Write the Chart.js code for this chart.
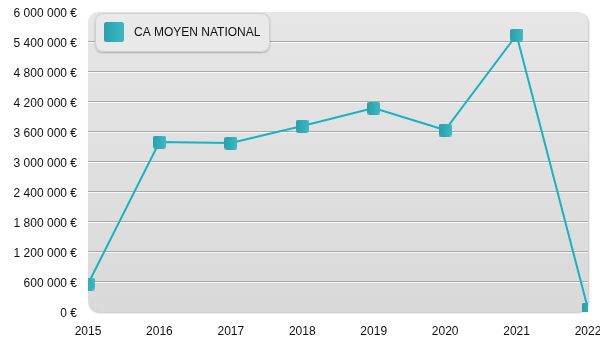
<!DOCTYPE html>
<html>
<head>
<meta charset="utf-8">
<script src="https://cdn.jsdelivr.net/npm/chart.js@4/dist/chart.umd.min.js"></script>
<style>
    html, body { margin: 0; padding: 0; background: #fff; }
    #wrap { width: 600px; height: 350px; }
</style>
</head>
<body>
<div id="wrap"><canvas id="chart"></canvas></div>
<script>
const years = ["2015", "2016", "2017", "2018", "2019", "2020", "2021", "2022"];
const ca_moyen = [560000, 3400000, 3380000, 3720000, 4080000, 3640000, 5540000, 60000];
const series_label = "CA MOYEN NATIONAL";
const y_max = 6000000;
const y_step = 600000;

const FONT = "'Liberation Sans', Arial, sans-serif";
const LINE_COLOR = "#17b3c3";

function euro(value) {
    const s = String(Math.round(value)).replace(/\B(?=(\d{3})+(?!\d))/g, " ");
    return s + " €";
}

function round_rect(c, x, y, w, h, r) {
    c.beginPath();
    c.moveTo(x + r, y);
    c.lineTo(x + w - r, y);
    c.quadraticCurveTo(x + w, y, x + w, y + r);
    c.lineTo(x + w, y + h - r);
    c.quadraticCurveTo(x + w, y + h, x + w - r, y + h);
    c.lineTo(x + r, y + h);
    c.quadraticCurveTo(x, y + h, x, y + h - r);
    c.lineTo(x, y + r);
    c.quadraticCurveTo(x, y, x + r, y);
    c.closePath();
}

// teal square with soft corners, used for points and the legend
function marker(size) {
    const cv = document.createElement("canvas");
    cv.width = size;
    cv.height = size;
    const c = cv.getContext("2d");
    const g = c.createLinearGradient(0, 0, size, 0);
    g.addColorStop(0, "#2a9fab");
    g.addColorStop(1, "#3cb9c2");
    c.fillStyle = g;
    round_rect(c, 0, 0, size, size, 2.5);
    c.fill();
    return cv;
}

const point_img = marker(13);
const legend_img = marker(20);

const panel_plugin = {
    id: "panel",
    beforeDatasetsDraw(chart) {
        const { ctx, chartArea: a, scales } = chart;
        ctx.save();
        // panel with shadow
        ctx.shadowColor = "rgba(0,0,0,0.25)";
        ctx.shadowBlur = 2;
        ctx.shadowOffsetX = 1;
        ctx.shadowOffsetY = 1;
        const g = ctx.createLinearGradient(0, a.top, 0, a.bottom);
        g.addColorStop(0, "#e6e6e6");
        g.addColorStop(1, "#d9d9d9");
        ctx.fillStyle = g;
        round_rect(ctx, a.left, a.top, a.right - a.left, a.bottom - a.top, 12);
        ctx.fill();
        ctx.shadowColor = "transparent";

        // grid lines: dark line with a white line below
        const y = scales.y;
        for (let v = y_step; v < y_max; v += y_step) {
            const py = Math.round(y.getPixelForValue(v));
            ctx.fillStyle = "#a9a9a9";
            ctx.fillRect(a.left, py - 1, a.right - a.left, 1);
            ctx.fillStyle = "#f7f7f7";
            ctx.fillRect(a.left, py, a.right - a.left, 1);
        }
        ctx.restore();
    },
    afterDatasetsDraw(chart) {
        const { ctx, chartArea: a } = chart;
        ctx.save();
        // legend box
        const lx = a.left + 7, ly = a.top + 1, lw = 175, lh = 39;
        ctx.shadowColor = "rgba(0,0,0,0.25)";
        ctx.shadowBlur = 2;
        ctx.shadowOffsetY = 1;
        ctx.fillStyle = "#e9e9e9";
        round_rect(ctx, lx, ly, lw, lh, 9);
        ctx.fill();
        ctx.shadowColor = "transparent";
        ctx.strokeStyle = "#cfcfcf";
        ctx.lineWidth = 1;
        round_rect(ctx, lx + 0.5, ly + 0.5, lw - 1, lh - 1, 9);
        ctx.stroke();
        ctx.drawImage(legend_img, lx + 9, ly + 9);
        ctx.fillStyle = "#111";
        ctx.font = "12px " + FONT;
        ctx.textBaseline = "middle";
        ctx.fillText(chart.data.datasets[0].label, lx + 39, ly + 20);
        ctx.restore();
    },
};

const chart = new Chart(document.getElementById("chart"), {
    type: "line",
    data: {
        labels: years,
        datasets: [{
            label: series_label,
            data: ca_moyen,
            borderColor: LINE_COLOR,
            borderWidth: 2,
            tension: 0,
            pointStyle: point_img,
            clip: 0,
        }],
    },
    options: {
        responsive: true,
        maintainAspectRatio: false,
        animation: false,
        layout: { padding: { top: 12, right: 12, left: 0, bottom: 0 } },
        plugins: {
            legend: { display: false },
            tooltip: { enabled: false },
        },
        scales: {
            x: {
                offset: false,
                grid: { display: false, drawTicks: false },
                border: { display: false },
                ticks: {
                    color: "#111",
                    font: { family: FONT, size: 12 },
                    padding: 12,
                    maxRotation: 0,
                    autoSkip: false,
                },
                afterFit(scale) {
                    scale.height = 38;
                    scale.paddingLeft = 0;
                    scale.paddingRight = 0;
                },
            },
            y: {
                min: 0,
                max: y_max,
                grid: { display: false, drawTicks: false },
                border: { display: false },
                ticks: {
                    stepSize: y_step,
                    color: "#111",
                    font: { family: FONT, size: 12 },
                    padding: 11,
                    labelOffset: 2,
                    callback: euro,
                },
                afterFit(scale) {
                    scale.width = 88;
                    scale.paddingTop = 0;
                    scale.paddingBottom = 0;
                },
            },
        },
    },
    plugins: [panel_plugin],
});
</script>
</body>
</html>
